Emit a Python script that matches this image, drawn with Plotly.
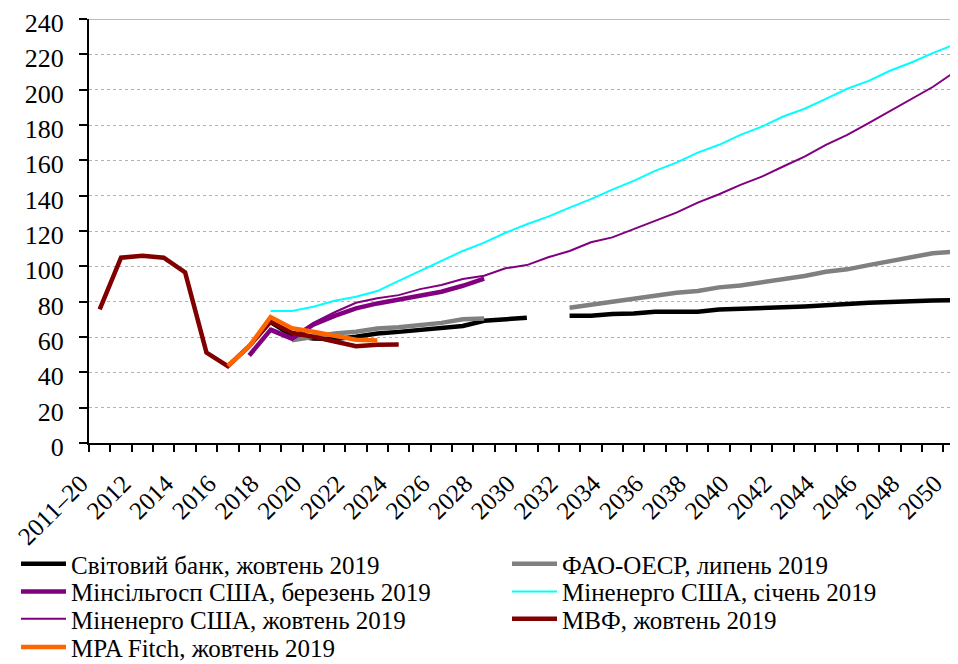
import plotly.graph_objects as go

categories = ["2011–20"] + [str(y) for y in range(2011, 2051)]

N = None
world_bank = [N]*8 + [68.5, 61.0, 59.2, 58.8, 60.2, 62.0, 62.9, 63.9, 64.8, 66.2, 69.2, 70.1, 70.9,
                      N, 72.0, 72.0, 73.0, 73.3, 74.3, 74.3, 74.3, 75.6, 75.8, 76.2, 76.8, 77.3,
                      78.1, 78.5, 79.4, 79.8, 80.5, 80.7, 80.9]
fao_oecd = [N]*9 + [58.2, 60.0, 62.0, 63.0, 64.8, 65.5, 66.5, 68.0, 70.0, 70.5,
                    N, N, N, 76.5, 78.1, 80.3, 81.5, 83.2, 85.0, 86.0, 88.1, 89.2, 91.0, 92.6,
                    94.5, 96.9, 98.3, 100.7, 103.0, 105.4, 107.4, 108.3]
usda_mar = [N]*7 + [49.5, 64.0, 59.0, 67.0, 72.0, 76.2, 79.0, 81.3, 83.5, 85.6, 89.0, 93.0] + [N]*22
eia_jan = [N]*8 + [74.7, 74.7, 77.1, 80.5, 82.8, 86.0, 91.8, 97.5, 103.0, 108.7, 113.4, 119.0,
                   123.8, 128.1, 133.2, 138.0, 143.4, 148.4, 154.0, 158.7, 164.4, 168.8, 174.4,
                   179.1, 184.8, 189.2, 194.8, 200.5, 205.0, 210.7, 215.4, 220.7, 225.5]
eia_oct = [N]*8 + [65.0, 60.0, 68.0, 74.0, 79.4, 81.9, 83.7, 87.1, 89.4, 92.8, 94.7, 98.9,
                   100.7, 105.1, 108.7, 113.6, 116.4, 121.0, 125.7, 130.4, 136.1, 140.8, 146.1,
                   150.8, 156.5, 162.1, 168.8, 174.4, 181.1, 188.0, 194.8, 201.5, 209.8]
imf_oct = [75.6, 104.9, 106.0, 104.9, 96.6, 51.2, 43.5, 54.8, 68.6, 62.4, 60.1, 57.3, 54.8,
           55.6, 55.8] + [N]*26
fitch_oct = [N]*6 + [43.7, 54.7, 71.3, 65.0, 63.0, 61.0, 58.5, 58.0] + [N]*27

series = [
    ("Світовий банк, жовтень 2019", world_bank, "#000000", 4.5),
    ("ФАО-ОЕСР, липень 2019", fao_oecd, "#808080", 4.5),
    ("Мінсільгосп США, березень 2019", usda_mar, "#800080", 4.5),
    ("Міненерго США, січень 2019", eia_jan, "#00FFFF", 2),
    ("Міненерго США, жовтень 2019", eia_oct, "#800080", 2),
    ("МВФ, жовтень 2019", imf_oct, "#800000", 4.5),
    ("MPA Fitch, жовтень 2019", fitch_oct, "#FF6600", 4.5),
]

FONT = "Liberation Serif"
H, W = 664, 958
ml, mt, mb = 81, 11, 229
ph = H - mt - mb
pw = W - ml
Y_MAX = 240

def py(p):
    return (H - mb - p) / ph

def px(p):
    return (p - ml) / pw

row_y = [556, 583.7, 611, 639.3]
col_x = [8, 499]

x = list(range(len(categories)))
fig = go.Figure()
legends = {}
for i, (name, vals, color, w) in enumerate(series):
    key = "legend" if i == 0 else f"legend{i + 1}"
    fig.add_trace(go.Scatter(x=x, y=vals, name=name, mode="lines",
                             line=dict(color=color, width=w), connectgaps=False,
                             legend=key))
    legends[key] = dict(orientation="v", xanchor="left", yanchor="middle",
                        x=px(col_x[i % 2]), y=py(row_y[i // 2]),
                        font=dict(family=FONT, size=25, color="black"),
                        bgcolor="rgba(0,0,0,0)", itemwidth=45)

# top border of the plot area (grey line at the maximum of the value axis)
fig.add_shape(type="line", xref="paper", x0=0, x1=1, yref="y", y0=Y_MAX, y1=Y_MAX,
              line=dict(color="#a6a6a6", width=1.5), layer="below")

fig.update_layout(
    width=W, height=H,
    margin=dict(l=ml, r=0, t=mt, b=mb, autoexpand=False),
    paper_bgcolor="white", plot_bgcolor="white",
    font=dict(family=FONT, size=26, color="black"),
    showlegend=True,
    xaxis=dict(range=[-0.5, 40.56], tickmode="array",
               tickvals=x[::2], ticktext=categories[::2], tickangle=-45,
               ticks="", showgrid=False, zeroline=False,
               showline=True, linecolor="black", linewidth=2,
               ticklabeloverflow="allow", ticklabelshift=-19, ticklabelstandoff=14,
               tickfont=dict(family=FONT, size=25, color="black"),
               minor=dict(tick0=0.5, dtick=1, ticks="outside", ticklen=7,
                          tickwidth=1.5, tickcolor="black", showgrid=False)),
    yaxis=dict(range=[0, Y_MAX], dtick=20, tick0=0, showgrid=True,
               gridcolor="#b3b3b3", griddash="dot", gridwidth=1,
               zeroline=False, showline=True, linecolor="black", linewidth=2,
               ticks="outside", ticklen=8, tickwidth=1.5, tickcolor="black",
               tickfont=dict(family=FONT, size=26, color="black"),
               ticklabeloverflow="allow", ticklabelstandoff=10, ticklabelshift=4),
    **legends,
)

fig.write_html("out.html")
